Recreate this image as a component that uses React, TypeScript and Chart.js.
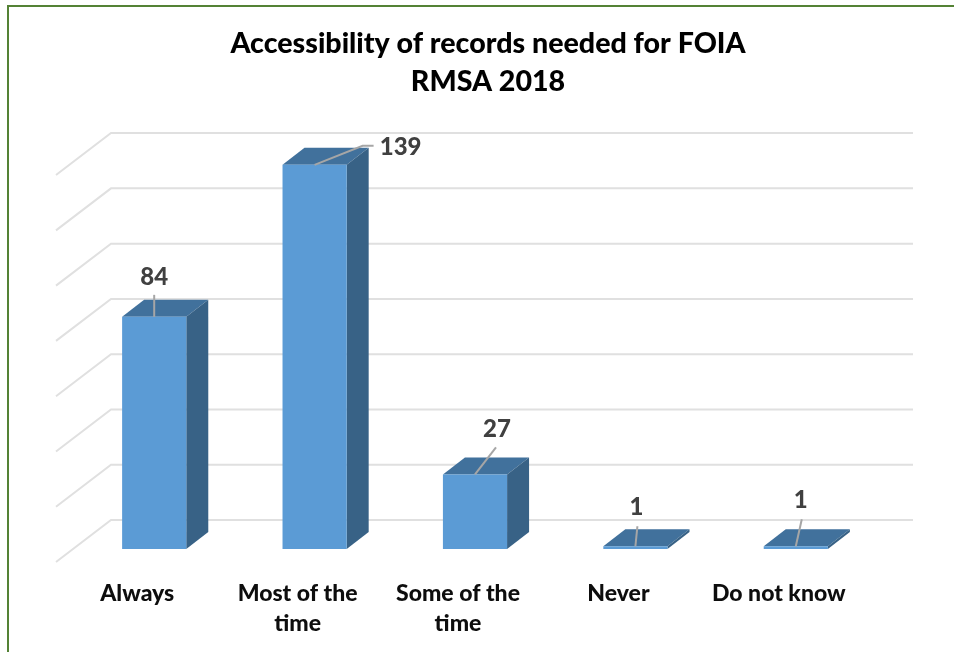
import React, { useEffect, useRef } from "react";
import { Chart, registerables } from "chart.js";

Chart.register(...registerables);

const titleLines = ["Accessibility of records needed for FOIA", "RMSA 2018"];
const categories = [["Always"], ["Most of the", "time"], ["Some of the", "time"], ["Never"], ["Do not know"]];
const responses = [84, 139, 27, 1, 1];
const gridTicks = [0, 20, 40, 60, 80, 100, 120, 140];
// label anchor offsets from the bar's front-top centre (leader-line ends)
const labelOffsets = [
  { lx: 0, ly: -22, tx: 0, ty: -40, bendX: 0 },
  { lx: 48, ly: -19, tx: 86, ty: -18, bendX: 59 },
  { lx: 21, ly: -27, tx: 22, ty: -45, bendX: 21 },
  { lx: 2, ly: -20, tx: 1, ty: -39, bendX: 2 },
  { lx: 6, ly: -27, tx: 5, ty: -46, bendX: 6 },
];

const DEPTH_X = 22;
const DEPTH_Y = 17;
const GRID_BACK_X = 37;
const GRID_BACK_Y = 29;
const GRID_FRONT_X = 18;
const GRID_FRONT_Y = 13;

const plugin3d = {
  id: "plugin3d",
  afterLayout(chart: any) {
    chart.titleBlock.left += 13;
    chart.titleBlock.right += 13;
  },
  beforeDatasetsDraw(chart: any) {
    const { ctx, scales } = chart;
    const x = scales.x;
    const y = scales.y;
    ctx.save();
    ctx.strokeStyle = "#e0e0e0";
    ctx.lineWidth = 2;
    gridTicks.forEach((t) => {
      const py = y.getPixelForValue(t);
      ctx.beginPath();
      ctx.moveTo(x.left - GRID_FRONT_X, py + GRID_FRONT_Y);
      ctx.lineTo(x.left + GRID_BACK_X, py - GRID_BACK_Y);
      ctx.lineTo(x.right + GRID_BACK_X, py - GRID_BACK_Y);
      ctx.stroke();
    });
    const meta = chart.getDatasetMeta(0);
    meta.data.forEach((bar: any) => {
      const p = bar.getProps(["x", "y", "base", "width"], true);
      const l = p.x - p.width / 2;
      const r = p.x + p.width / 2;
      ctx.fillStyle = "#41719c";
      ctx.beginPath();
      ctx.moveTo(l, p.y);
      ctx.lineTo(l + DEPTH_X, p.y - DEPTH_Y);
      ctx.lineTo(r + DEPTH_X, p.y - DEPTH_Y);
      ctx.lineTo(r, p.y);
      ctx.closePath();
      ctx.fill();
      ctx.fillStyle = "#386286";
      ctx.beginPath();
      ctx.moveTo(r, p.y);
      ctx.lineTo(r + DEPTH_X, p.y - DEPTH_Y);
      ctx.lineTo(r + DEPTH_X, p.base - DEPTH_Y);
      ctx.lineTo(r, p.base);
      ctx.closePath();
      ctx.fill();
    });
    ctx.restore();
  },
  afterDatasetsDraw(chart: any) {
    const { ctx } = chart;
    const meta = chart.getDatasetMeta(0);
    ctx.save();
    ctx.textAlign = "center";
    ctx.textBaseline = "middle";
    ctx.font = "900 24px Lato";
    meta.data.forEach((bar: any, i: number) => {
      const p = bar.getProps(["x", "y"], true);
      const o = labelOffsets[i];
      ctx.strokeStyle = "#a6a6a6";
      ctx.lineWidth = 2;
      ctx.beginPath();
      ctx.moveTo(p.x, p.y);
      ctx.lineTo(p.x + o.lx, p.y + o.ly);
      if (o.bendX !== o.lx) ctx.lineTo(p.x + o.bendX, p.y + o.ly);
      ctx.stroke();
      ctx.fillStyle = "#404040";
      ctx.fillText(String(responses[i]), p.x + o.tx, p.y + o.ty);
    });
    ctx.restore();
  },
};

export default function App() {
  const ref = useRef<HTMLCanvasElement>(null);
  useEffect(() => {
    document.body.style.margin = "0";
    const chart = new Chart(ref.current!, {
      type: "bar",
      data: {
        labels: categories as any,
        datasets: [
          {
            data: responses,
            backgroundColor: "#5b9bd5",
            borderWidth: 0,
            barPercentage: 0.4,
            categoryPercentage: 1,
          },
        ],
      },
      plugins: [plugin3d],
      options: {
        responsive: false,
        animation: false,
        devicePixelRatio: 1,
        layout: { padding: { left: 74, right: 78, top: 0, bottom: 0 } },
        plugins: {
          legend: { display: false },
          tooltip: { enabled: false },
          title: {
            display: true,
            text: titleLines,
            color: "#000000",
            font: { family: "Lato", weight: "900", size: 28.6, lineHeight: 1.33 },
            padding: { top: 25, bottom: 61 },
          },
        },
        scales: {
          x: {
            grid: { display: false },
            border: { display: false },
            ticks: {
              color: "#0d0d0d",
              font: { family: "Lato", weight: "900", size: 23, lineHeight: 1.3 },
              padding: 22,
              labelOffset: -17,
              maxRotation: 0,
              autoSkip: false,
            },
            afterFit(s: any) { s.height = 103; },
          },
          y: {
            display: false,
            min: 0,
            max: 140,
          },
        },
      } as any,
    });
    return () => chart.destroy();
  }, []);
  return (
    <div style={{ position: "relative", width: 954, height: 652, overflow: "hidden", background: "#fff" }}>
      <canvas ref={ref} width={954} height={652} style={{ display: "block" }} />
      <div style={{ position: "absolute", left: 7, top: 5, width: 980, height: 660, border: "2px solid #548235", pointerEvents: "none" }} />
    </div>
  );
}
